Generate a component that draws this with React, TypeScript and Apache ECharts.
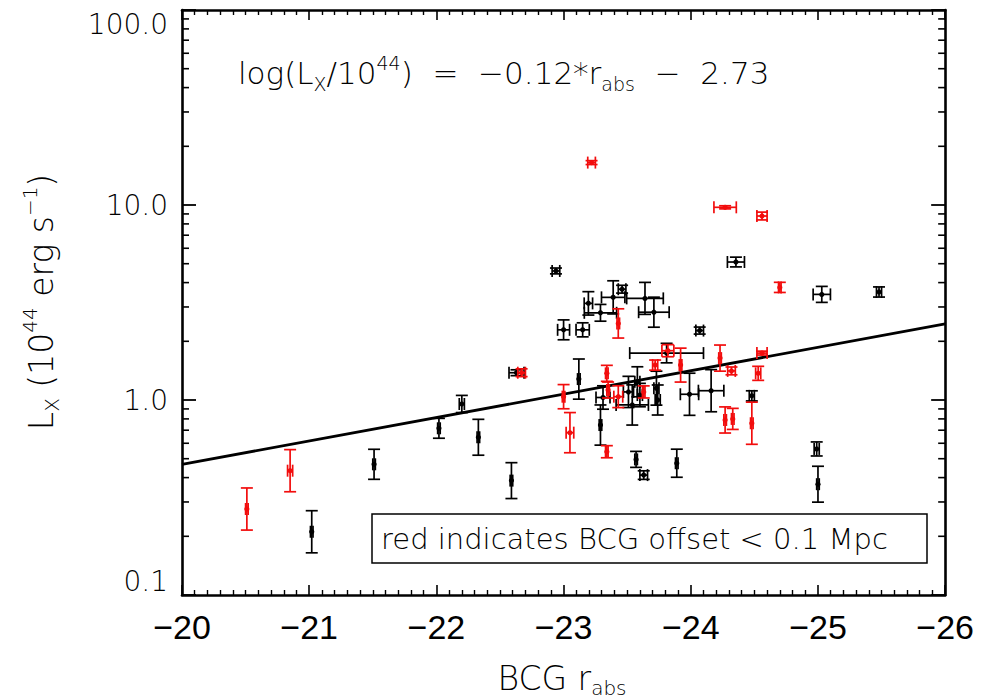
import React, { useEffect, useRef } from "react";
import * as echarts from "echarts";

// ---- data ----
// black points: BCG r_abs, its error, Lx (1e44 erg/s), log error (dex)
const blackR = [-22.94, -24.355, -25.03, -25.48, -24.07, -24.48, -23.99, -24.16, -24.99, -25.0, -23.57, -23.63, -23.89, -23.12, -23.29, -23.31, -23.81, -23.51, -23.58, -23.54, -23.73, -23.74, -23.195, -23.29, -23.39, -23.46, -23.64, -23.71, -23.0, -23.15, -22.63, -22.59, -21.02, -21.51, -22.02, -22.2, -22.33, -23.6];
const blackRErr = [0.03, 0.067, 0.068, 0.02, 0.03, 0.02, 0.072, 0.1, 0.02, 0.01, 0.01, 0.03, 0.01, 0.01, 0.01, 0.055, 0.29, 0.04, 0.02, 0.127, 0.02, 0.02, 0.033, 0.127, 0.092, 0.03, 0.144, 0.12, 0.047, 0.052, 0.059, 0.01, 0.01, 0.01, 0.01, 0.02, 0.01, 0.02];
const blackLx = [4.59, 5.1, 3.48, 3.58, 2.27, 1.05, 1.07, 1.116, 0.561, 0.37, 0.496, 0.412, 0.474, 1.28, 0.744, 1.03, 1.74, 1.1, 1.24, 0.943, 1.15, 1.0, 3.13, 2.8, 3.36, 3.7, 3.32, 2.82, 2.29, 2.29, 1.38, 0.386, 0.211, 0.468, 0.716, 0.954, 0.644, 1.06];
const blackDex = [0.015, 0.025, 0.041, 0.026, 0.018, 0.026, 0.108, 0.108, 0.036, 0.092, 0.041, 0.022, 0.072, 0.103, 0.103, 0.06, 0.05, 0.08, 0.077, 0.103, 0.087, 0.077, 0.06, 0.043, 0.085, 0.02, 0.082, 0.077, 0.051, 0.036, 0.015, 0.092, 0.108, 0.077, 0.051, 0.044, 0.092, 0.06];

// red points: BCG offset < 0.1 Mpc
const redR = [-23.22, -24.27, -24.56, -24.7, -24.56, -24.53, -24.23, -24.32, -24.27, -24.33, -24.48, -23.05, -23.0, -23.34, -23.82, -23.92, -23.72, -23.34, -23.35, -23.43, -23.63, -23.43, -22.67, -20.51, -20.85];
const redRErr = [0.03, 0.088, 0.04, 0.01, 0.04, 0.02, 0.01, 0.03, 0.01, 0.01, 0.01, 0.03, 0.01, 0.01, 0.047, 0.01, 0.02, 0.01, 0.01, 0.035, 0.01, 0.01, 0.03, 0.01, 0.02];
const redLx = [16.5, 9.73, 8.78, 3.78, 1.74, 1.37, 1.64, 1.41, 0.79, 0.8, 0.76, 0.68, 1.04, 0.543, 1.79, 1.51, 1.51, 1.37, 1.125, 1.04, 1.1, 2.47, 1.38, 0.276, 0.434];
const redDex = [0.01, 0.008, 0.02, 0.026, 0.01, 0.036, 0.067, 0.02, 0.067, 0.054, 0.108, 0.103, 0.062, 0.031, 0.031, 0.087, 0.026, 0.041, 0.041, 0.056, 0.031, 0.075, 0.02, 0.108, 0.108];

// fit: log(Lx/1e44) = slope * r_abs + intercept
const fitSlope = -0.12;
const fitIntercept = -2.73;
const fitRange = [-20, -26];

// axes
const xMin = -26;
const xMax = -20;
const yMin = 0.1;
const yMax = 100;
const yMinorTicks = [0.2, 0.3, 0.4, 0.5, 0.6, 0.7, 0.8, 0.9, 2, 3, 4, 5, 6, 7, 8, 9, 20, 30, 40, 50, 60, 70, 80, 90];

const FONT = "'DejaVu Sans', sans-serif";
const NARROW = "'Liberation Sans Narrow', 'Liberation Sans', sans-serif";
const W = 300;
const RED = "#f20d0d";
const OFF = 8; // body margin: chart coordinates = page coordinates - 8

function zip4(a: number[], b: number[], c: number[], d: number[]) {
  return a.map((v, i) => [v, c[i], b[i], d[i]]);
}

function errRender(color: string) {
  return (params: any, api: any) => {
    const r = api.value(0);
    const L = api.value(1);
    const re = api.value(2);
    const d = api.value(3);
    const c = api.coord([r, L]);
    const a1 = api.coord([r - re, L]);
    const a2 = api.coord([r + re, L]);
    const f = Math.pow(10, d);
    const b1 = api.coord([r, L * f]);
    const b2 = api.coord([r, L / f]);
    const cap = 6;
    const ls = { stroke: color, lineWidth: 1.7 };
    const line = (x1: number, y1: number, x2: number, y2: number) => ({
      type: "line",
      shape: { x1, y1, x2, y2 },
      style: ls,
    });
    return {
      type: "group",
      children: [
        line(a1[0], c[1], a2[0], c[1]),
        line(a1[0], c[1] - cap, a1[0], c[1] + cap),
        line(a2[0], c[1] - cap, a2[0], c[1] + cap),
        line(c[0], b1[1], c[0], b2[1]),
        line(c[0] - cap, b1[1], c[0] + cap, b1[1]),
        line(c[0] - cap, b2[1], c[0] + cap, b2[1]),
        { type: "circle", shape: { cx: c[0], cy: c[1], r: 2.6 }, style: { fill: color } },
      ],
    };
  };
}

export default function App() {
  const ref = useRef<HTMLDivElement>(null);
  useEffect(() => {
    if (!ref.current) return;
    const chart = echarts.init(ref.current, undefined, { renderer: "svg" });
    const fitData = fitRange.map((r) => [r, Math.pow(10, fitSlope * r + fitIntercept)]);
    const axisLineStyle = { color: "#000", width: 2.6 };
    const xBase = (pos: "top" | "bottom", showLabel: boolean) => ({
      type: "value",
      position: pos,
      min: xMin,
      max: xMax,
      interval: 1,
      inverse: true,
      axisLine: { show: true, onZero: false, lineStyle: axisLineStyle },
      axisTick: { show: true, inside: true, length: 10, lineStyle: { color: "#000", width: 1.6 } },
      minorTick: { show: true, splitNumber: 10, length: 5, lineStyle: { color: "#000", width: 1.4 } },
      splitLine: { show: false },
      axisLabel: {
        show: showLabel,
        color: "#000",
        fontFamily: NARROW,
        fontSize: 34,
        margin: 15,
        formatter: (v: number) => (v < 0 ? "\u2212" + Math.abs(v) : String(v)),
      },
    });
    const yBase = (pos: "left" | "right", showLabel: boolean) => ({
      type: "log",
      logBase: 10,
      position: pos,
      min: yMin,
      max: yMax,
      axisLine: { show: true, onZero: false, lineStyle: axisLineStyle },
      axisTick: { show: true, inside: true, length: 14, lineStyle: { color: "#000", width: 1.8 } },
      minorTick: { show: false },
      splitLine: { show: false },
      axisLabel: {
        show: showLabel,
        color: "#000",
        fontFamily: FONT,
        fontWeight: W,
        fontSize: 28,
        margin: 14,
        verticalAlignMinLabel: "bottom",
        verticalAlignMaxLabel: "top",
        formatter: (v: number) => v.toFixed(1),
      },
    });
    const richText = (size: number, small: number, lh: number) => ({
      n: { fontSize: size, fontFamily: FONT, fontWeight: W, fill: "#000", lineHeight: lh, verticalAlign: "middle" },
      sub: { fontSize: small, fontFamily: FONT, fontWeight: W, fill: "#000", lineHeight: lh, verticalAlign: "bottom", padding: [0, 0, 1, 0] },
      sup: { fontSize: small, fontFamily: FONT, fontWeight: W, fill: "#000", lineHeight: lh, verticalAlign: "top", padding: [1, 0, 0, 0] },
    });
    chart.setOption({
      animation: false,
      backgroundColor: "#fff",
      grid: { left: 182 - OFF, top: 10 - OFF, width: 765, height: 585, containLabel: false },
      xAxis: [xBase("bottom", true), xBase("top", false)],
      yAxis: [yBase("left", true), yBase("right", false)],
      series: [
        {
          type: "custom",
          name: "yMinor",
          data: yMinorTicks.map((v) => [xMax, v]),
          renderItem: (params: any, api: any) => {
            const v = api.value(1);
            const p = api.coord([xMax, v]);
            const q = api.coord([xMin, v]);
            const st = { stroke: "#000", lineWidth: 1.6 };
            return {
              type: "group",
              children: [
                { type: "line", shape: { x1: p[0], y1: p[1], x2: p[0] + 7, y2: p[1] }, style: st },
                { type: "line", shape: { x1: q[0] - 7, y1: q[1], x2: q[0], y2: q[1] }, style: st },
              ],
            };
          },
          silent: true,
          clip: false,
        },
        {
          type: "line",
          name: "fit",
          data: fitData,
          symbol: "none",
          lineStyle: { color: "#000", width: 2.8 },
          z: 3,
        },
        {
          type: "custom",
          name: "black",
          data: zip4(blackR, blackRErr, blackLx, blackDex),
          renderItem: errRender("#000"),
          z: 4,
        },
        {
          type: "custom",
          name: "red",
          data: zip4(redR, redRErr, redLx, redDex),
          renderItem: errRender(RED),
          z: 5,
        },
      ],
      graphic: [
        {
          type: "text",
          x: 238 - OFF,
          y: 73 - OFF,
          style: {
            text: "{n|log(L}{sub|X}{n|/10}{sup|44}{n|)  =  \u22120.12*r}{sub|abs}{n|  \u2212  2.73}",
            verticalAlign: "middle",
            rich: richText(31, 19, 42),
          },
        },
        {
          type: "rect",
          shape: { x: 372 - OFF, y: 514 - OFF, width: 555, height: 49 },
          style: { fill: "#fff", stroke: "#000", lineWidth: 1.5 },
          z: 10,
        },
        {
          type: "text",
          x: 381 - OFF,
          y: 539 - OFF,
          style: {
            text: "red indicates BCG offset < 0.1 Mpc",
            fontSize: 29,
            fontFamily: FONT,
            fontWeight: W,
            fill: "#000",
            verticalAlign: "middle",
          },
          z: 11,
        },
        {
          type: "text",
          x: 41 - OFF,
          y: 302 - OFF,
          rotation: Math.PI / 2,
          style: {
            text: "{n|L}{sub|X}{n| (10}{sup|44}{n| erg s}{sup|\u22121}{n|)}",
            align: "center",
            verticalAlign: "middle",
            rich: richText(33, 20, 44),
          },
        },
        {
          type: "text",
          x: 562 - OFF,
          y: 678 - OFF,
          style: {
            text: "{n|BCG r}{sub|abs}",
            align: "center",
            verticalAlign: "middle",
            rich: richText(33, 20, 42),
          },
        },
      ],
    });
    return () => chart.dispose();
  }, []);
  return <div ref={ref} style={{ width: 985 - 2 * OFF, height: 700 - OFF }} />;
}
